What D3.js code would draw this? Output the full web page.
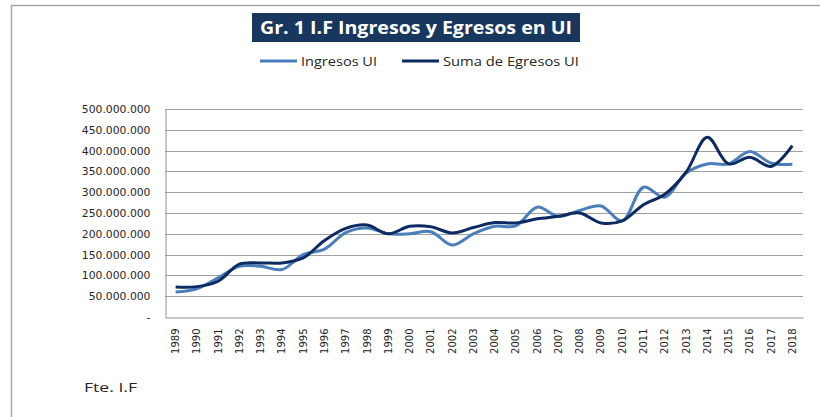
<!DOCTYPE html>
<html>
<head>
<meta charset="utf-8">
<script src="https://cdn.jsdelivr.net/npm/d3@7"></script>
<style>
  body { margin: 0; background: #fff; }
  svg { display: block; }
</style>
</head>
<body>
<div id="chart"></div>
<script>
// years on the x axis
var years = ["1989","1990","1991","1992","1993","1994","1995","1996","1997","1998",
  "1999","2000","2001","2002","2003","2004","2005","2006","2007","2008",
  "2009","2010","2011","2012","2013","2014","2015","2016","2017","2018"];

// values (UI)
var ingresos = [60e6, 68e6, 94e6, 122e6, 122e6, 114e6, 150e6, 163e6, 203e6, 214e6,
  200e6, 200e6, 205e6, 173e6, 200e6, 218e6, 219e6, 264e6, 242e6, 256e6,
  267e6, 231e6, 312e6, 288e6, 346e6, 368e6, 368e6, 398e6, 370e6, 367e6];
var egresos = [72e6, 73e6, 86e6, 127e6, 130e6, 130e6, 142e6, 184e6, 213e6, 221e6,
  200e6, 218e6, 217e6, 202e6, 215e6, 227e6, 226e6, 236e6, 242e6, 250e6,
  226e6, 231e6, 270e6, 295e6, 348e6, 432e6, 368e6, 384e6, 362e6, 412e6];

var yTicks = [0, 50e6, 100e6, 150e6, 200e6, 250e6, 300e6, 350e6, 400e6, 450e6, 500e6];
var seriesNames = ["Ingresos UI", "Suma de Egresos UI"];
var seriesColors = ["#4a7ebb", "#0e2a63"];

var W = 820, H = 417;
var plot = {left: 165, right: 803, top: 109, bottom: 317};

var svg = d3.select("#chart").append("svg").attr("width", W).attr("height", H);

// outer frame (top and left only are visible)
svg.append("line").attr("x1", 11).attr("x2", W).attr("y1", 5.5).attr("y2", 5.5)
  .attr("stroke", "#a6a6a6").attr("stroke-width", 1.5);
svg.append("line").attr("x1", 11.5).attr("x2", 11.5).attr("y1", 5).attr("y2", H)
  .attr("stroke", "#a6a6a6").attr("stroke-width", 1.5);

// title box
svg.append("rect").attr("x", 252).attr("y", 13).attr("width", 328).attr("height", 29)
  .attr("fill", "#17375e");
svg.append("text").attr("x", 416).attr("y", 34).attr("text-anchor", "middle")
  .attr("fill", "#fff").style("font-family", "'Open Sans', sans-serif")
  .style("font-weight", "bold").style("font-size", "18px")
  .attr("textLength", 312).attr("lengthAdjust", "spacingAndGlyphs")
  .text("Gr. 1 I.F Ingresos y Egresos en UI");

// legend
var legendX = [260, 402];
var legendW = [76, 136];
seriesNames.forEach(function(name, i) {
  svg.append("line").attr("x1", legendX[i]).attr("x2", legendX[i] + 37)
    .attr("y1", 61).attr("y2", 61)
    .attr("stroke", seriesColors[i]).attr("stroke-width", 3);
  svg.append("text").attr("x", legendX[i] + 41).attr("y", 65.5)
    .attr("fill", "#262626").style("font-family", "'Open Sans', sans-serif")
    .style("font-size", "12.5px")
    .attr("textLength", legendW[i]).attr("lengthAdjust", "spacingAndGlyphs")
    .text(name);
});

var x = d3.scaleBand().domain(years).range([plot.left, plot.right]);
var y = d3.scaleLinear().domain([0, 500e6]).range([plot.bottom, plot.top]);

function fmt(v) {
  if (v === 0) return "-";
  return d3.format(",")(v).replace(/,/g, ".");
}

// gridlines
svg.append("g").selectAll("line").data(yTicks.slice(1)).enter().append("line")
  .attr("x1", plot.left).attr("x2", plot.right)
  .attr("y1", function(d) { return Math.round(y(d)) + 0.5; })
  .attr("y2", function(d) { return Math.round(y(d)) + 0.5; })
  .attr("stroke", "#a0a0a0").attr("stroke-width", 1);

// y axis
var yAxis = svg.append("g").attr("transform", "translate(" + (plot.left + 0.5) + ",0)")
  .call(d3.axisLeft(y).tickValues(yTicks).tickSize(0).tickPadding(15).tickFormat(fmt));
yAxis.select(".domain").attr("stroke", "#909090");
yAxis.selectAll("text").attr("fill", "#262626")
  .style("font-family", "'DejaVu Sans', sans-serif").style("font-size", "10.8px");

// x axis
var xAxis = svg.append("g").attr("transform", "translate(0," + (plot.bottom + 0.5) + ")")
  .call(d3.axisBottom(x).tickSize(0).tickPadding(0));
xAxis.select(".domain").attr("stroke", "#909090");
xAxis.selectAll("text")
  .attr("transform", "rotate(-90)")
  .attr("text-anchor", "end")
  .attr("x", -11).attr("y", 0).attr("dy", "0.35em")
  .attr("fill", "#262626")
  .style("font-family", "'DejaVu Sans', sans-serif").style("font-size", "10px");

// series lines
var line = d3.line()
  .x(function(d, i) { return x(years[i]) + x.bandwidth() / 2; })
  .y(function(d) { return y(d); })
  .curve(d3.curveCatmullRom.alpha(0.5));

[ingresos, egresos].forEach(function(vals, i) {
  svg.append("path").datum(vals)
    .attr("fill", "none")
    .attr("stroke", seriesColors[i])
    .attr("stroke-width", 3)
    .attr("stroke-linejoin", "round")
    .attr("d", line);
});

// source note
svg.append("text").attr("x", 84).attr("y", 392)
  .attr("fill", "#262626").style("font-family", "'Open Sans', sans-serif")
  .style("font-size", "12.5px")
  .attr("textLength", 53).attr("lengthAdjust", "spacingAndGlyphs")
  .text("Fte. I.F");
</script>
</body>
</html>
